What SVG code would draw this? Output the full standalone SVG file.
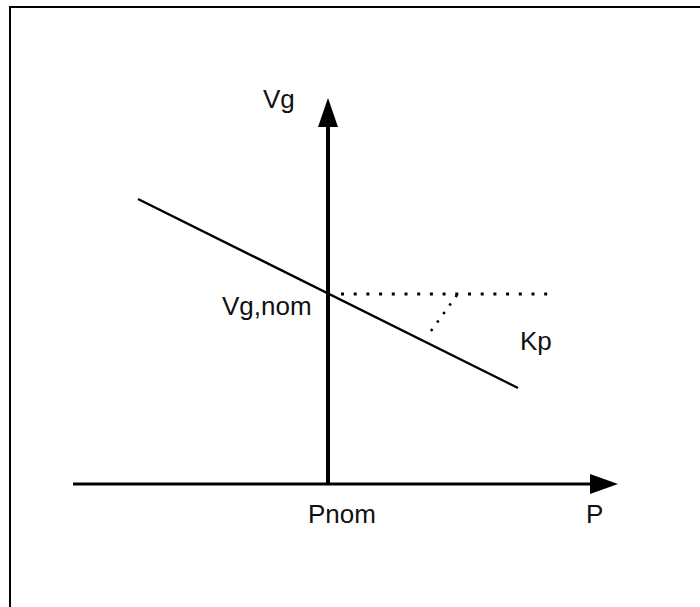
<svg xmlns="http://www.w3.org/2000/svg" width="700" height="607" viewBox="0 0 700 607">
<style>
.lbl{font-family:"Liberation Sans",Arial,sans-serif;font-size:26px;fill:#111}
.ax{stroke:#000;fill:none}
.dot{stroke:#000;fill:none;stroke-width:3;stroke-dasharray:3 9.7}
</style>
<rect width="700" height="607" fill="#fff"/>
<rect x="10" y="7" width="700" height="620" fill="none" stroke="#000" stroke-width="2"/>
<g id="connectors">
<line class="ax" x1="328" y1="484" x2="328" y2="125" stroke-width="4"/>
<path d="M328,98 L338,127 L318,127 z" fill="#000"/>
<line class="ax" x1="73" y1="484" x2="592" y2="484" stroke-width="3"/>
<path d="M618,484 L590,474 L590,494 z" fill="#000"/>
<line x1="138" y1="199" x2="518" y2="388" stroke="#000" stroke-width="2.4"/>
<line class="dot" x1="341" y1="294" x2="548" y2="294"/>
<line x1="457" y1="295" x2="431" y2="331" stroke="#000" stroke-width="2.5" stroke-dasharray="2.5 8"/>
</g>
<g id="labels">
<text class="lbl" x="263" y="108">Vg</text>
<text class="lbl" x="222" y="315">Vg,nom</text>
<text class="lbl" x="520" y="350">Kp</text>
<text class="lbl" x="308" y="523">Pnom</text>
<text class="lbl" x="586" y="523">P</text>
</g>
</svg>
